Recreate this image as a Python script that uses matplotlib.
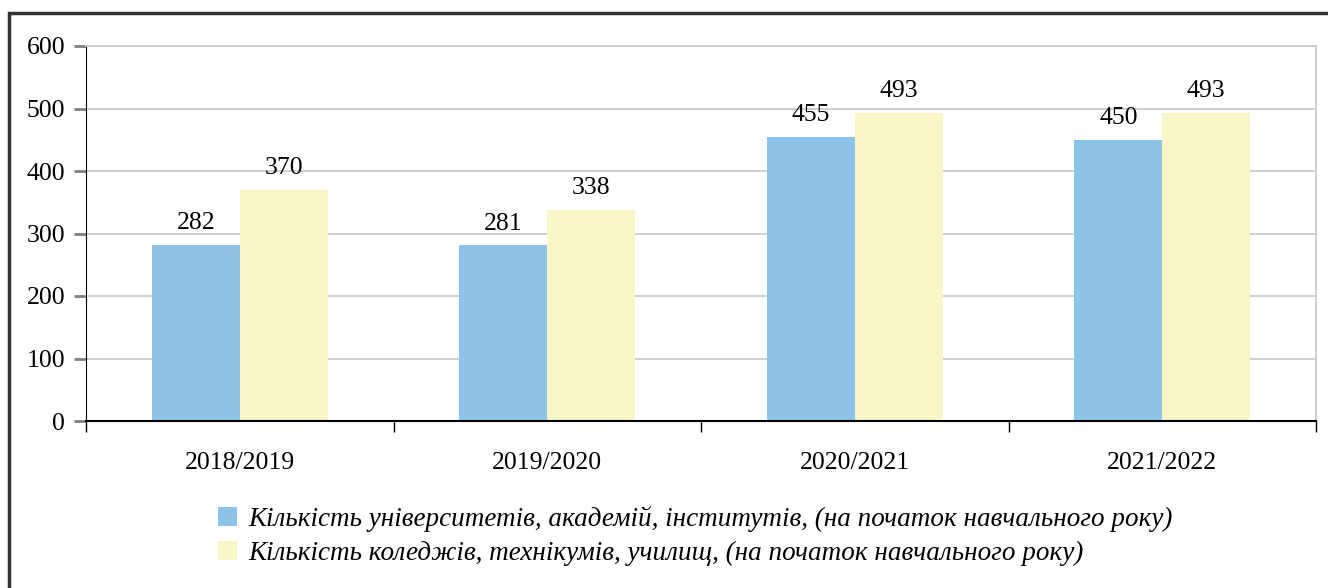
import matplotlib
matplotlib.use("Agg")
import matplotlib.pyplot as plt
from matplotlib.patches import Rectangle
import numpy as np

years = ["2018/2019", "2019/2020", "2020/2021", "2021/2022"]
universities = [282, 281, 455, 450]
colleges = [370, 338, 493, 493]
labels = ["Кількість університетів, академій, інститутів, (на початок навчального року)",
          "Кількість коледжів, технікумів, училищ, (на початок навчального року)"]

plt.rcParams["font.family"] = ["Liberation Serif", "DejaVu Serif"]

fig = plt.figure(figsize=(13.28, 5.88), dpi=100)
ax = fig.add_axes([86 / 1328, 1 - 421 / 588, 1230 / 1328, 375 / 588])

x = np.arange(len(years))
w = 0.286
ax.bar(x - w / 2, universities, w, color="#8DC3E9", label=labels[0], zorder=2)
ax.bar(x + w / 2, colleges, w, color="#F8F6C6", label=labels[1], zorder=2)
for xi, v in zip(x, universities):
    ax.text(xi - w / 2, v + 17, str(v), ha="center", va="bottom", fontsize=18.5)
for xi, v in zip(x, colleges):
    ax.text(xi + w / 2, v + 17, str(v), ha="center", va="bottom", fontsize=18.5)

ax.set_xlim(-0.5, len(years) - 0.5)
ax.set_ylim(0, 600)
ax.set_yticks(range(0, 601, 100))
ax.yaxis.grid(True, color="#C8C8C8", lw=1.2, zorder=0)
ax.set_xticks(x)
ax.set_xticklabels(years, fontsize=18.5)
ax.set_xticks(np.arange(-0.5, len(years)), minor=True)
ax.tick_params(axis="x", which="major", length=0, pad=22)
ax.tick_params(axis="x", which="minor", length=8, width=1, color="black", direction="out")
ax.tick_params(axis="y", length=9, width=2, color="#808080", labelsize=18.5, pad=6)
for s in ["top", "right"]:
    ax.spines[s].set_color("#C8C8C8")
    ax.spines[s].set_linewidth(1.2)
ax.spines["left"].set_color("black")
ax.spines["bottom"].set_color("black")
ax.spines["bottom"].set_linewidth(1.5)

fig.legend(loc="upper left", bbox_to_anchor=(194 / 1328, 1 - 481 / 588), frameon=False,
           prop={"style": "italic", "size": 19.5}, handlelength=0.7, handleheight=0.7,
           handletextpad=0.4, labelspacing=0.35)

fig.patches.append(Rectangle((9 / 1328, -0.1), 1.2, 1 - 13 / 588 + 0.1, transform=fig.transFigure,
                             fill=False, edgecolor="#333333", lw=2.5))

fig.savefig("out.png", dpi=100)
